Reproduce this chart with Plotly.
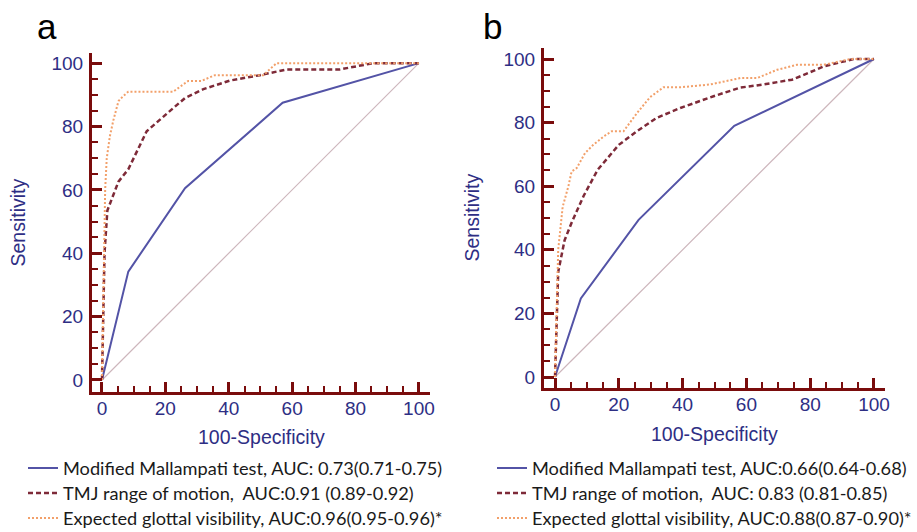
import plotly.graph_objects as go

# ---------------- data ----------------
# Panel a
a_mmp_x = [0, 8.3, 26.2, 57.0, 100]
a_mmp_y = [0, 34.2, 60.5, 87.5, 100]
a_tmj_x = [0, 0.5, 0.8, 1.7, 3.0, 5.2, 8.3, 11.0, 14.1, 20.4, 26.2, 32.0, 40.4, 49.8, 58.3, 75.0, 85.6, 100]
a_tmj_y = [0, 20, 40, 53.5, 57.0, 62.6, 66.5, 72.0, 78.5, 84.0, 89.0, 91.8, 94.5, 96.2, 98.0, 98.0, 100, 100]
a_egv_x = [0, 0.3, 0.6, 1.0, 1.5, 2.5, 3.6, 5.2, 6.5, 8.3, 22.5, 24.6, 27.2, 31.4, 35.6, 50.9, 55.1, 100]
a_egv_y = [0, 20, 45, 60, 70, 77, 82, 88, 89.4, 91, 91, 92.5, 94.4, 94.4, 96.2, 96.2, 100, 100]

# Panel b
b_mmp_x = [0, 8.1, 26.2, 56.2, 100]
b_mmp_y = [0, 24.7, 49.4, 79.0, 100]
b_tmj_x = [0, 0.5, 1.0, 3.0, 5.2, 9.0, 13.4, 20.0, 25.7, 31.9, 39.3, 49.7, 58.1, 65.4, 74.3, 78.0, 84.3, 93.7, 100]
b_tmj_y = [0, 20, 33, 43, 48.5, 57, 65.2, 73, 77.3, 81.5, 84.6, 88.3, 91.0, 92.0, 93.5, 95.0, 97.7, 100, 100]
b_egv_x = [0, 0.5, 1.0, 2.4, 4.2, 5.2, 6.8, 9.4, 12.0, 15.2, 17.8, 21.5, 25.7, 29.8, 34.0, 39.3, 48.7, 58.1, 63.4, 69.6, 75.9, 84.3, 92.7, 100]
b_egv_y = [0, 20, 40, 53.5, 60, 64.6, 65.7, 70.4, 73, 75.6, 77.3, 77.3, 83, 88, 91.1, 91.1, 92, 94, 94, 96.6, 98.2, 98.2, 100, 100]

ref_x = [0, 100]
ref_y = [0, 100]

a_names = [
    "Modified Mallampati test, AUC: 0.73(0.71-0.75)",
    "TMJ range of motion,  AUC:0.91 (0.89-0.92)",
    "Expected glottal visibility, AUC:0.96(0.95-0.96)*",
]
b_names = [
    "Modified Mallampati test, AUC:0.66(0.64-0.68)",
    "TMJ range of motion,  AUC: 0.83 (0.81-0.85)",
    "Expected glottal visibility, AUC:0.88(0.87-0.90)*",
]
panel_labels = ["a", "b"]
x_title = "100-Specificity"
y_title = "Sensitivity"

# ---------------- styling ----------------
W, H = 917, 532
AXIS_RED = "#7A0C0C"
NAVY = "#2E2E84"
BLUE = "#5353A6"
DASH_RED = "#7E2A38"
ORANGE = "#F2A06A"
DIAG = "#CDB6BC"
TICK_FONT = dict(family="Liberation Sans, Arial, sans-serif", size=19, color=NAVY)
LEG_FONT = dict(family="Lato, Open Sans, sans-serif", size=16.9, color="#1a1a1a")
LEG_TEXT_PX = 18.2


def leg_label(s):
    return '<span style="font-size:%.1fpx">%s</span>' % (LEG_TEXT_PX, s)


fig = go.Figure()


def add_panel(xa, ya, leg, mx, my, tx, ty, ex, ey, names):
    fig.add_trace(go.Scatter(x=ref_x, y=ref_y, mode="lines", xaxis=xa, yaxis=ya,
                             line=dict(color=DIAG, width=1.2), showlegend=False,
                             hoverinfo="skip"))
    fig.add_trace(go.Scatter(x=mx, y=my, mode="lines", xaxis=xa, yaxis=ya, name=leg_label(names[0]),
                             legend=leg, line=dict(color=BLUE, width=2)))
    fig.add_trace(go.Scatter(x=tx, y=ty, mode="lines", xaxis=xa, yaxis=ya, name=leg_label(names[1]),
                             legend=leg, line=dict(color=DASH_RED, width=2.5, dash="5px,3px")))
    fig.add_trace(go.Scatter(x=ex, y=ey, mode="lines", xaxis=xa, yaxis=ya, name=leg_label(names[2]),
                             legend=leg, line=dict(color=ORANGE, width=2, dash="2px,2px")))


add_panel("x", "y", "legend", a_mmp_x, a_mmp_y, a_tmj_x, a_tmj_y, a_egv_x, a_egv_y, a_names)
add_panel("x2", "y2", "legend2", b_mmp_x, b_mmp_y, b_tmj_x, b_tmj_y, b_egv_x, b_egv_y, b_names)


def axis(domain, rng, anchor, standoff):
    return dict(
        domain=domain, range=rng, anchor=anchor, showgrid=False, zeroline=False,
        showline=True, linecolor=AXIS_RED, linewidth=3,
        ticks="inside", ticklen=10, tickwidth=3, tickcolor=AXIS_RED,
        tick0=0, dtick=20, tickfont=TICK_FONT, ticklabelstandoff=standoff,
        minor=dict(ticks="inside", ticklen=6, tickwidth=2, tickcolor=AXIS_RED, dtick=5, tick0=0),
        fixedrange=True,
    )


def px_x(p):
    return p / W


def px_y(p):
    return 1 - p / H


fig.update_layout(
    width=W, height=H, margin=dict(l=0, r=0, t=0, b=0, autoexpand=False),
    paper_bgcolor="white", plot_bgcolor="white",
    xaxis=axis([px_x(92), px_x(430)], [-3.15, 103.5], "y", -3),
    yaxis=axis([px_y(392), px_y(53)], [-3.8, 103.2], "x", 2),
    xaxis2=axis([px_x(544), px_x(885)], [-3.45, 103.45], "y2", -3),
    yaxis2=axis([px_y(388), px_y(48)], [-3.46, 103.46], "x2", 2),
    legend=dict(x=px_x(23), y=px_y(450.5), xanchor="left", yanchor="top",
                font=LEG_FONT, bgcolor="rgba(0,0,0,0)", borderwidth=0,
                tracegroupgap=0),
    legend2=dict(x=px_x(492), y=px_y(450.5), xanchor="left", yanchor="top",
                 font=LEG_FONT, bgcolor="rgba(0,0,0,0)", borderwidth=0,
                 tracegroupgap=0),
    showlegend=True,
)

ann = []
# panel letters
for lbl, cx in zip(panel_labels, [47, 492]):
    ann.append(dict(text=lbl, x=px_x(cx), y=px_y(5), xref="paper", yref="paper",
                    xanchor="center", yanchor="top", showarrow=False,
                    font=dict(family="Liberation Sans, Arial", size=35, color="black")))
TITLE_FONT = dict(family="Liberation Sans, Arial, sans-serif", size=19.5, color=NAVY)
# axis titles
for cx, cy in [(261, 437), (714.5, 434)]:
    ann.append(dict(text=x_title, x=px_x(cx), y=px_y(cy), xref="paper", yref="paper",
                    xanchor="center", yanchor="middle", showarrow=False, font=TITLE_FONT))
for cx, cy in [(17.5, 223), (471.5, 218)]:
    ann.append(dict(text=y_title, x=px_x(cx), y=px_y(cy), xref="paper", yref="paper",
                    xanchor="center", yanchor="middle", showarrow=False, textangle=-90,
                    font=TITLE_FONT))
fig.update_layout(annotations=ann)

fig.write_html(
    "out.html",
    config={"displayModeBar": False, "staticPlot": True},
    post_script="document.body.style.margin='0';document.documentElement.style.overflow='hidden';",
)
